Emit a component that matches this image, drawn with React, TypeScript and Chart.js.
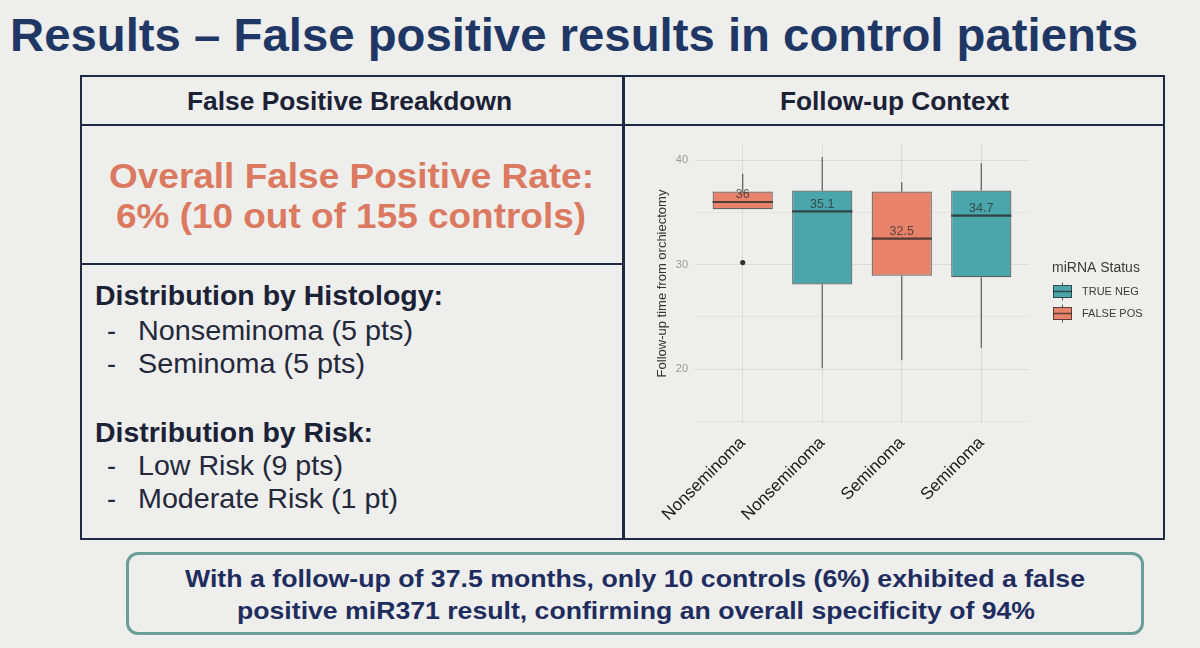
import React, { useEffect, useLayoutEffect, useRef } from "react";
import { Chart, registerables } from "chart.js";

Chart.register(...registerables);

// ---------- data ----------
const categories = ["Nonseminoma", "Nonseminoma", "Seminoma", "Seminoma"];
const status = ["FALSE POS", "TRUE NEG", "FALSE POS", "TRUE NEG"];
const whiskerLow = [35.3, 20.1, 20.85, 22.05];
const q1 = [35.3, 28.1, 28.95, 28.8];
const medians = [36.0, 35.1, 32.5, 34.7];
const q3 = [37.0, 37.1, 37.0, 37.1];
const whiskerHigh = [38.7, 40.3, 37.9, 39.7];
const outliers = [30.2, null, null, null];
const yGridValues = [15, 20, 25, 30, 35, 40];
const legendLabels = ["TRUE NEG", "FALSE POS"];
const legendTitle = "miRNA Status";
const yTitle = "Follow-up time from orchiectomy";

const COLORS: Record<string, string> = {
  "TRUE NEG": "#4aa6aa",
  "FALSE POS": "#e8826b",
};

const FONT = "'Liberation Sans', Arial, Helvetica, sans-serif";
const BG = "#eeeeec";
const NAVY_LINE = "#1d2a45";

function FitText({ x, base, size, w, bold, color, text }: any) {
  const ref = useRef<HTMLSpanElement>(null);
  useLayoutEffect(() => {
    const el = ref.current;
    if (!el) return;
    el.style.transform = "none";
    const natural = el.getBoundingClientRect().width;
    if (natural > 0) el.style.transform = `scaleX(${w / natural})`;
  }, [w, text]);
  return (
    <span
      ref={ref}
      style={{
        position: "absolute",
        left: x,
        top: base - 0.8465 * size,
        fontSize: size,
        lineHeight: `${size}px`,
        fontWeight: bold ? 700 : 400,
        color,
        whiteSpace: "nowrap",
        transformOrigin: "0 0",
        fontFamily: FONT,
        display: "inline-block",
      }}
    >
      {text}
    </span>
  );
}

const boxPlugin = {
  id: "boxParts",
  beforeDatasetsDraw(chart: any) {
    const { ctx } = chart;
    const xs = chart.scales.x;
    const ys = chart.scales.y;
    ctx.save();
    ctx.strokeStyle = "#5a5a5a";
    ctx.lineWidth = 1.2;
    categories.forEach((_, i) => {
      const x = xs.getPixelForValue(i);
      ctx.beginPath();
      ctx.moveTo(x, ys.getPixelForValue(whiskerLow[i]));
      ctx.lineTo(x, ys.getPixelForValue(q1[i]));
      ctx.moveTo(x, ys.getPixelForValue(q3[i]));
      ctx.lineTo(x, ys.getPixelForValue(whiskerHigh[i]));
      ctx.stroke();
    });
    ctx.restore();
  },
  afterDatasetsDraw(chart: any) {
    const { ctx } = chart;
    const xs = chart.scales.x;
    const ys = chart.scales.y;
    const meta = chart.getDatasetMeta(0);
    ctx.save();
    categories.forEach((_, i) => {
      const x = xs.getPixelForValue(i);
      const half = meta.data[i].width / 2;
      const y = ys.getPixelForValue(medians[i]);
      ctx.strokeStyle = "rgba(35,35,35,0.75)";
      ctx.lineWidth = 2.2;
      ctx.beginPath();
      ctx.moveTo(x - half, y);
      ctx.lineTo(x + half, y);
      ctx.stroke();
      ctx.fillStyle = "rgba(40,40,40,0.72)";
      ctx.font = `12.5px ${FONT}`;
      ctx.textAlign = "center";
      ctx.textBaseline = "middle";
      ctx.fillText(String(Number(medians[i].toFixed(1))), x, y - 7);
    });
    ctx.restore();
  },
  afterDraw(chart: any) {
    const { ctx } = chart;
    const area = chart.chartArea;
    const lx = area.right + 23;
    ctx.save();
    ctx.fillStyle = "#3a3a3a";
    ctx.font = `14px ${FONT}`;
    ctx.textAlign = "left";
    ctx.textBaseline = "middle";
    ctx.fillText(legendTitle, lx, 128);
    legendLabels.forEach((lab, k) => {
      const cy = 151.5 + k * 22;
      const bx = lx + 1;
      const bw = 19;
      const bh = 13;
      ctx.strokeStyle = "#555";
      ctx.lineWidth = 1;
      ctx.beginPath();
      ctx.moveTo(bx + bw / 2, cy - 9);
      ctx.lineTo(bx + bw / 2, cy + 9);
      ctx.stroke();
      ctx.fillStyle = COLORS[lab];
      ctx.fillRect(bx, cy - bh / 2, bw, bh);
      ctx.strokeStyle = "rgba(35,35,35,0.7)";
      ctx.strokeRect(bx + 0.5, cy - bh / 2 + 0.5, bw - 1, bh - 1);
      ctx.lineWidth = 1.5;
      ctx.beginPath();
      ctx.moveTo(bx, cy);
      ctx.lineTo(bx + bw, cy);
      ctx.stroke();
      ctx.fillStyle = "#3a3a3a";
      ctx.font = `11px ${FONT}`;
      ctx.fillText(lab, lx + 30, cy + 0.5);
    });
    ctx.restore();
  },
};

function BoxChart() {
  const ref = useRef<HTMLCanvasElement>(null);
  useEffect(() => {
    const canvas = ref.current!;
    const chart = new Chart(canvas, {
      type: "bar",
      data: {
        datasets: [
          {
            type: "bar",
            data: q1.map((v, i) => ({ x: i, y: [v, q3[i]] })) as any,
            backgroundColor: status.map((s) => COLORS[s]),
            borderColor: "rgba(35,35,35,0.7)",
            borderWidth: 1.2,
            borderSkipped: false,
            barPercentage: 0.757,
            categoryPercentage: 1,
            order: 2,
          },
          {
            type: "line",
            data: outliers
              .map((v, i) => (v === null ? null : { x: i, y: v }))
              .filter((p) => p !== null) as any,
            showLine: false,
            pointRadius: 2.6,
            pointBackgroundColor: "#333",
            pointBorderWidth: 0,
            order: 1,
          } as any,
        ],
      },
      options: {
        animation: false,
        responsive: false,
        devicePixelRatio: 1,
        layout: { padding: { top: 3, right: 131, left: 0, bottom: 0 } },
        plugins: { legend: { display: false }, tooltip: { enabled: false } },
        scales: {
          x: {
            type: "linear",
            min: -0.6,
            max: categories.length - 0.4,
            offset: false,
            afterBuildTicks(scale: any) {
              scale.ticks = categories.map((_, i) => ({ value: i }));
            },
            grid: {
              offset: false,
              color: "rgba(0,0,0,0.075)",
              drawTicks: false,
            },
            border: { display: false },
            ticks: {
              autoSkip: false,
              minRotation: 45,
              maxRotation: 45,
              padding: 10,
              color: "#1a1a1a",
              font: { family: FONT, size: 17 },
              callback: (v: any) => categories[Math.round(Number(v))] ?? "",
            },
            afterFit(scale: any) {
              scale.height = 112;
              scale.paddingLeft = 0;
              scale.paddingRight = 0;
            },
          },
          y: {
            min: 14.85,
            max: 41.55,
            afterBuildTicks(scale: any) {
              scale.ticks = yGridValues.map((v) => ({ value: v }));
            },
            grid: {
              drawTicks: false,
              color: (c: any) =>
                c.tick && c.tick.value % 10 === 0 ? "rgba(0,0,0,0.075)" : "rgba(0,0,0,0.045)",
            },
            border: { display: false },
            ticks: {
              padding: 7,
              color: "#9a9a9a",
              font: { family: FONT, size: 11 },
              callback: (v: any) => (Number(v) % 10 === 0 ? String(v) : ""),
            },
            title: {
              display: true,
              text: yTitle,
              color: "#333",
              font: { family: FONT, size: 13 },
              padding: { top: 25, bottom: 0 },
            },
            afterFit(scale: any) {
              scale.width = 65;
              scale.paddingTop = 0;
              scale.paddingBottom = 0;
            },
          },
        },
      },
      plugins: [boxPlugin],
    });
    return () => chart.destroy();
  }, []);
  return (
    <canvas
      ref={ref}
      width={530}
      height={395}
      style={{ position: "absolute", left: 630, top: 140, width: 530, height: 395 }}
    />
  );
}

function Line({ l, t, w, h, c }: any) {
  return <div style={{ position: "absolute", left: l, top: t, width: w, height: h, background: c }} />;
}

export default function App() {
  const dark = "#1c2236";
  const item = "#23283a";
  const salmon = "#db7a60";
  return (
    <div
      style={{
        position: "absolute",
        left: 0,
        top: 0,
        width: 1200,
        height: 648,
        background: BG,
        overflow: "hidden",
        fontFamily: FONT,
      }}
    >
      <FitText x={10} base={51} size={46} w={1128} bold color="#1f3764" text="Results – False positive results in control patients" />

      {/* table */}
      <div
        style={{
          position: "absolute",
          left: 80,
          top: 75,
          width: 1085,
          height: 465,
          border: `2px solid ${NAVY_LINE}`,
          boxSizing: "border-box",
        }}
      />
      <Line l={622} t={75} w={3} h={465} c={NAVY_LINE} />
      <Line l={80} t={124} w={1085} h={2} c={NAVY_LINE} />
      <Line l={80} t={263} w={543} h={2} c={NAVY_LINE} />

      <FitText x={187} base={110} size={25} w={325} bold color={dark} text="False Positive Breakdown" />
      <FitText x={780} base={110} size={25} w={229} bold color={dark} text="Follow-up Context" />

      <FitText x={109} base={188} size={35} w={485} bold color={salmon} text="Overall False Positive Rate:" />
      <FitText x={116} base={228} size={35} w={470} bold color={salmon} text="6% (10 out of 155 controls)" />

      <FitText x={95} base={306} size={28} w={348} bold color={dark} text="Distribution by Histology:" />
      <FitText x={107} base={341} size={28} w={9} color={item} text="-" />
      <FitText x={138} base={341} size={28} w={275} color={item} text="Nonseminoma (5 pts)" />
      <FitText x={107} base={374} size={28} w={9} color={item} text="-" />
      <FitText x={138} base={374} size={28} w={227} color={item} text="Seminoma (5 pts)" />

      <FitText x={95} base={443} size={28} w={278} bold color={dark} text="Distribution by Risk:" />
      <FitText x={107} base={476} size={28} w={9} color={item} text="-" />
      <FitText x={138} base={476} size={28} w={205} color={item} text="Low Risk (9 pts)" />
      <FitText x={107} base={509} size={28} w={9} color={item} text="-" />
      <FitText x={138} base={509} size={28} w={260} color={item} text="Moderate Risk (1 pt)" />

      <BoxChart />

      {/* bottom box */}
      <div
        style={{
          position: "absolute",
          left: 126,
          top: 552,
          width: 1018,
          height: 83,
          border: "3px solid #6a9e96",
          borderRadius: 12,
          boxSizing: "border-box",
        }}
      />
      <FitText x={185} base={587} size={24} w={900} bold color="#1e2d5e" text="With a follow-up of 37.5 months, only 10 controls (6%) exhibited a false" />
      <FitText x={237} base={619} size={24} w={798} bold color="#1e2d5e" text="positive miR371 result, confirming an overall specificity of 94%" />
    </div>
  );
}
